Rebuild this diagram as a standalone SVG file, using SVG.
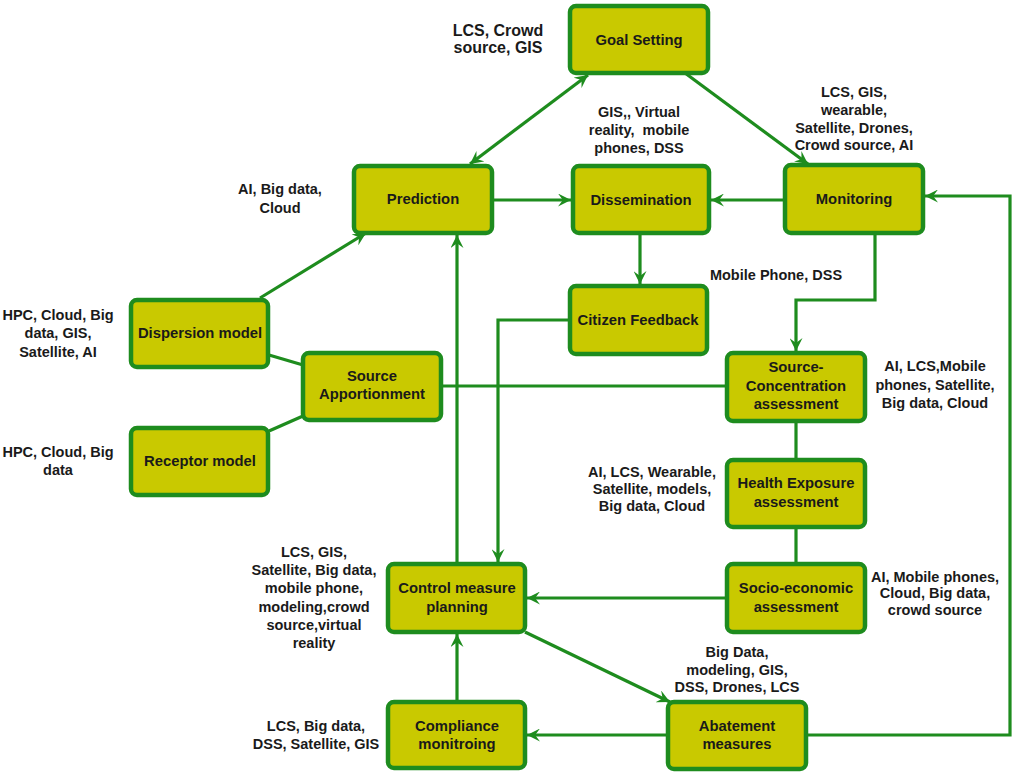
<svg xmlns="http://www.w3.org/2000/svg" width="1017" height="775" viewBox="0 0 1017 775">
<defs>
<style>
.node rect{fill:#c9c900;stroke:#1e8c1e;stroke-width:4.5}
.node text{font-family:"Liberation Sans",Arial,sans-serif;font-weight:bold;font-size:14.8px;fill:#1a1a1a;text-anchor:middle}
.lbl{font-family:"Liberation Sans",Arial,sans-serif;font-weight:bold;font-size:14.5px;fill:#1a1a1a;text-anchor:middle}
.conn line,.conn polyline{stroke:#1e8c1e;stroke-width:3.2;fill:none}
</style>
<marker id="ah" viewBox="0 0 12 12" refX="12" refY="6" markerWidth="13" markerHeight="13" markerUnits="userSpaceOnUse" orient="auto-start-reverse">
<path d="M0,0 L12,6 L0,12 L4.5,6 z" fill="#1e8c1e"/>
</marker>
</defs>
<rect width="1017" height="775" fill="#ffffff"/>
<g id="connectors" class="conn">
<line x1="588" y1="75" x2="470" y2="164" marker-start="url(#ah)" marker-end="url(#ah)"/>
<line x1="685" y1="73" x2="808" y2="164" marker-end="url(#ah)"/>
<line x1="492" y1="200" x2="571" y2="200" marker-end="url(#ah)"/>
<line x1="785" y1="200" x2="711" y2="200" marker-end="url(#ah)"/>
<line x1="640" y1="233" x2="640" y2="284" marker-end="url(#ah)"/>
<polyline points="875,233 875,300 796,300 796,351" marker-end="url(#ah)"/>
<polyline points="570,320 498,320 498,562" marker-end="url(#ah)"/>
<line x1="260" y1="298" x2="366" y2="233" marker-end="url(#ah)"/>
<line x1="269" y1="355" x2="303" y2="365"/>
<line x1="269" y1="431" x2="303" y2="416"/>
<line x1="441" y1="386" x2="727" y2="386"/>
<line x1="457" y1="564" x2="457" y2="235" marker-end="url(#ah)"/>
<line x1="796" y1="421" x2="796" y2="460"/>
<line x1="796" y1="527" x2="796" y2="564"/>
<line x1="727" y1="598" x2="527" y2="598" marker-end="url(#ah)"/>
<line x1="525" y1="632" x2="670" y2="702" marker-end="url(#ah)"/>
<line x1="457" y1="702" x2="457" y2="634" marker-end="url(#ah)"/>
<line x1="668" y1="735" x2="527" y2="735" marker-end="url(#ah)"/>
<polyline points="806,735 1010,735 1010,196 925,196" marker-end="url(#ah)"/>
</g>
<g id="goal" class="node"><rect x="570" y="6" width="138" height="67" rx="6"/><text x="639" y="45">Goal Setting</text></g>
<g id="prediction" class="node"><rect x="354" y="166" width="138" height="67" rx="6"/><text x="423" y="204">Prediction</text></g>
<g id="dissemination" class="node"><rect x="573" y="166" width="136" height="67" rx="6"/><text x="641" y="205">Dissemination</text></g>
<g id="monitoring" class="node"><rect x="785" y="165" width="138" height="68" rx="6"/><text x="854" y="204">Monitoring</text></g>
<g id="citizen" class="node"><rect x="570" y="286" width="137" height="68" rx="6"/><text x="638" y="325">Citizen Feedback</text></g>
<g id="dispersion" class="node"><rect x="131" y="300" width="137" height="67" rx="6"/><text x="200" y="338">Dispersion model</text></g>
<g id="apportionment" class="node"><rect x="303" y="353" width="138" height="67" rx="6"/><text x="372" y="381">Source</text><text x="372" y="399">Apportionment</text></g>
<g id="receptor" class="node"><rect x="131" y="428" width="137" height="67" rx="6"/><text x="200" y="466">Receptor model</text></g>
<g id="sourceconc" class="node"><rect x="727" y="353" width="138" height="68" rx="6"/><text x="796" y="372">Source-</text><text x="796" y="391">Concentration</text><text x="796" y="409">assessment</text></g>
<g id="health" class="node"><rect x="727" y="460" width="138" height="67" rx="6"/><text x="796" y="488">Health Exposure</text><text x="796" y="507">assessment</text></g>
<g id="socio" class="node"><rect x="727" y="564" width="138" height="68" rx="6"/><text x="796" y="593">Socio-economic</text><text x="796" y="612">assessment</text></g>
<g id="control" class="node"><rect x="388" y="564" width="137" height="68" rx="6"/><text x="457" y="593">Control measure</text><text x="457" y="612">planning</text></g>
<g id="compliance" class="node"><rect x="388" y="702" width="137" height="66" rx="6"/><text x="457" y="731">Compliance</text><text x="457" y="749">monitroing</text></g>
<g id="abatement" class="node"><rect x="668" y="702" width="138" height="67" rx="6"/><text x="737" y="731">Abatement</text><text x="737" y="749">measures</text></g>
<g id="labels">
<text class="lbl" style="font-size:16px" x="498" y="36">LCS, Crowd</text>
<text class="lbl" style="font-size:16px" x="498" y="53">source, GIS</text>
<text class="lbl" x="639" y="117">GIS,, Virtual</text>
<text class="lbl" x="639" y="135" style="white-space:pre">reality,  mobile</text>
<text class="lbl" x="639" y="153">phones, DSS</text>
<text class="lbl" x="854" y="97">LCS, GIS,</text>
<text class="lbl" x="854" y="115">wearable,</text>
<text class="lbl" x="854" y="133">Satellite, Drones,</text>
<text class="lbl" x="854" y="150">Crowd source, AI</text>
<text class="lbl" x="280" y="194">AI, Big data,</text>
<text class="lbl" x="280" y="213">Cloud</text>
<text class="lbl" x="58" y="320">HPC, Cloud, Big</text>
<text class="lbl" x="58" y="338">data, GIS,</text>
<text class="lbl" x="58" y="357">Satellite, AI</text>
<text class="lbl" x="58" y="457">HPC, Cloud, Big</text>
<text class="lbl" x="58" y="475">data</text>
<text class="lbl" x="776" y="280">Mobile Phone, DSS</text>
<text class="lbl" x="935" y="371">AI, LCS,Mobile</text>
<text class="lbl" x="935" y="390">phones, Satellite,</text>
<text class="lbl" x="935" y="408">Big data, Cloud</text>
<text class="lbl" x="652" y="477">AI, LCS, Wearable,</text>
<text class="lbl" x="652" y="494">Satellite, models,</text>
<text class="lbl" x="652" y="511">Big data, Cloud</text>
<text class="lbl" x="935" y="582">AI, Mobile phones,</text>
<text class="lbl" x="935" y="598">Cloud, Big data,</text>
<text class="lbl" x="935" y="615">crowd source</text>
<text class="lbl" x="737" y="657">Big Data,</text>
<text class="lbl" x="737" y="675">modeling, GIS,</text>
<text class="lbl" x="737" y="692">DSS, Drones, LCS</text>
<text class="lbl" x="314" y="557">LCS, GIS,</text>
<text class="lbl" x="314" y="575">Satellite, Big data,</text>
<text class="lbl" x="314" y="593">mobile phone,</text>
<text class="lbl" x="314" y="612">modeling,crowd</text>
<text class="lbl" x="314" y="630">source,virtual</text>
<text class="lbl" x="314" y="648">reality</text>
<text class="lbl" x="316" y="731">LCS, Big data,</text>
<text class="lbl" x="316" y="749">DSS, Satellite, GIS</text>
</g>
</svg>
